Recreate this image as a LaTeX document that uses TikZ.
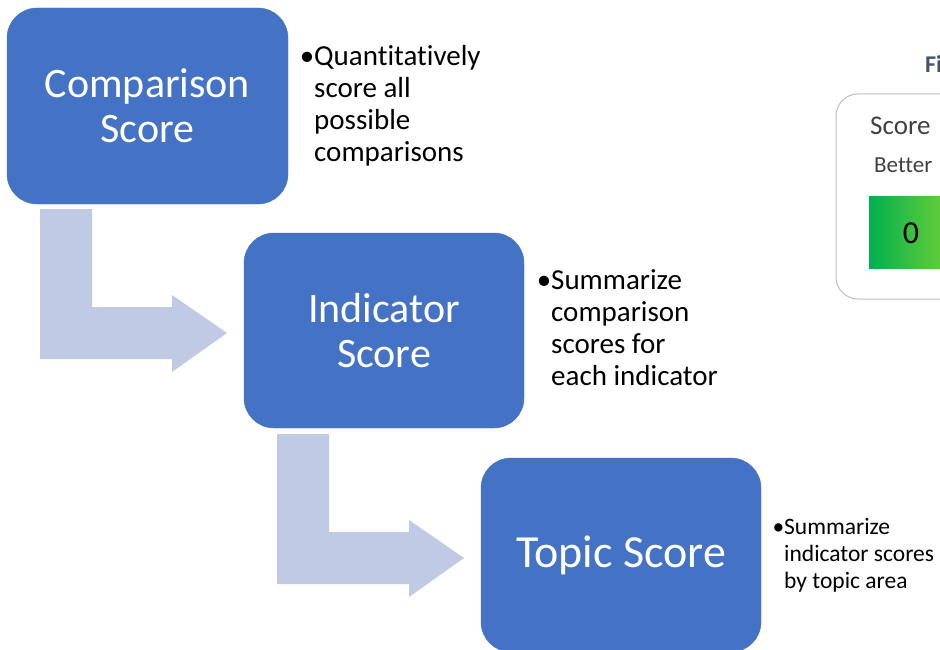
\documentclass[tikz,border=0pt]{standalone}
\usepackage{fontspec}
\setmainfont{Carlito}[Ligatures=NoCommon]
\usepackage{xcolor}
\definecolor{scoreblue}{HTML}{4472C4}
\definecolor{flowgray}{HTML}{C0CAE4}
\definecolor{keygray}{HTML}{BFBFBF}
\definecolor{keytext}{HTML}{404040}
\definecolor{titlegray}{HTML}{44546A}
\definecolor{goodgreen}{HTML}{00B050}
\definecolor{lightgreen}{HTML}{62CC38}

\begin{document}
\begin{tikzpicture}[x=1pt,y=-1pt,
  box/.style={fill=scoreblue,draw=scoreblue,rounded corners=30pt,minimum width=281pt,minimum height=196pt,text=white,align=center,inner sep=0pt,font=\fontsize{42}{45}\selectfont},
  note/.style={anchor=north west,align=left,inner sep=0pt,text=black,font=\fontsize{29}{32}\selectfont},
  bentarrow/.style={fill=flowgray}
]
\useasboundingbox (0,0) rectangle (940,650);
\clip (0,0) rectangle (940,650);
% bent arrows
\fill[bentarrow] (40,209) -- (92,209) -- (92,307) -- (172,307) -- (172,295) -- (227,333) -- (172,372) -- (172,359) -- (40,359) -- cycle;
\fill[bentarrow] (277,434) -- (329,434) -- (329,532) -- (409,532) -- (409,520) -- (464,558) -- (409,597) -- (409,584) -- (277,584) -- cycle;
% score boxes
\node[box] (cmp) at (147.5,106) {Comparison\\Score};
\node[box,minimum width=280pt,minimum height=195pt] (ind) at (384,330.5) {Indicator\\Score};
\node[box,minimum width=280pt,minimum height=194pt,font=\fontsize{46}{50}\selectfont] (top) at (621,555) {Topic Score};
% notes
\node[note] (cmpnote) at (314,45) {\llap{\textbullet}Quantitatively\\score all\\possible\\comparisons};
\node[note] (indnote) at (551,269) {\llap{\textbullet}Summarize\\comparison\\scores for\\each indicator};
\node[note,font=\fontsize{23.5}{27}\selectfont] (topnote) at (784,518) {\llap{\textbullet}Summarize\\indicator scores\\by topic area};
% key (cut off at right)
\node[anchor=base west,inner sep=0pt,text=titlegray,font=\fontsize{24}{28}\selectfont\bfseries] (keytitle) at (925,73) {Fi};
\draw[keygray,line width=1pt,rounded corners=22pt] (836,94) rectangle (990,299);
\node[anchor=base west,inner sep=0pt,text=keytext,font=\fontsize{27}{32}\selectfont] (keyscore) at (870,135) {Score};
\node[anchor=base west,inner sep=0pt,text=keytext,font=\fontsize{23}{27}\selectfont] (keybetter) at (874,173) {Better};
\shade[left color=goodgreen,right color=lightgreen] (869,196) rectangle (941,268);
\node[inner sep=0pt,text=black,font=\fontsize{32}{36}\selectfont] (keyzero) at (911,233) {0};
\end{tikzpicture}
\end{document}
